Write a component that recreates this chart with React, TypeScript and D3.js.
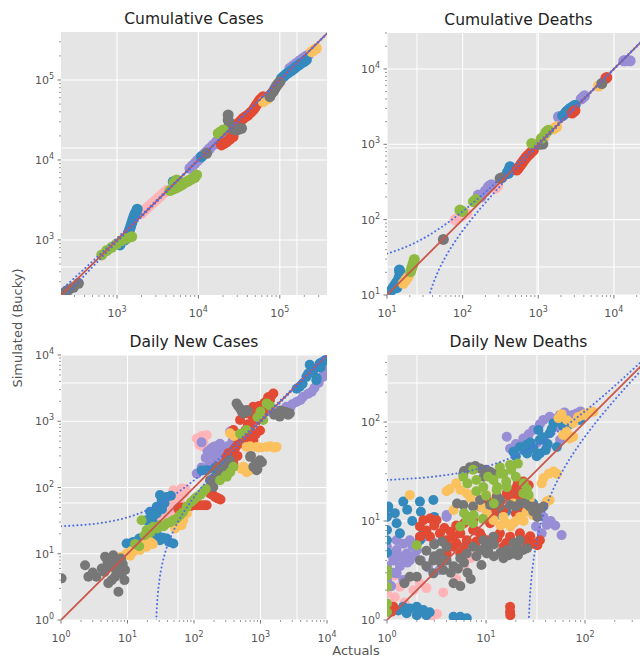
import * as d3 from 'd3';
import React, { useRef, useEffect } from 'react';

type Series = 'red' | 'blue' | 'purple' | 'grey' | 'yellow' | 'green' | 'pink';
type Pt = [number, number, Series];

const seriesColor: Record<Series, string> = {
  red: '#E24A33', blue: '#348ABD', purple: '#988ED5', grey: '#777777',
  yellow: '#FBC15E', green: '#8EBA42', pink: '#FFB5B8',
};
// draw order (last on top)
const seriesOrder: Series[] = ['pink', 'purple', 'blue', 'red', 'yellow', 'grey', 'green'];

// [actual, simulated, series]
const cumCases: Pt[] = [
  [220, 215, 'grey'], [236, 226, 'grey'], [253, 237, 'grey'], [291, 256, 'grey'], [336, 287, 'grey'],
  [23200, 36500, 'grey'], [23200, 31600, 'grey'], [24000, 28000, 'grey'], [26500, 24300, 'grey'], [29400, 23700, 'grey'], [31600, 24300, 'grey'], [33900, 24900, 'grey'],
  [75400, 61900, 'grey'], [78000, 66500, 'grey'], [82800, 71400, 'grey'], [87000, 77700, 'grey'], [91000, 84100, 'grey'], [95500, 89700, 'grey'], [100000, 95300, 'grey'], [12600, 12100, 'grey'],
  [241, 226, 'pink'], [2010, 2150, 'pink'], [2160, 2320, 'pink'], [2310, 2490, 'pink'], [2480, 2650, 'pink'], [2660, 2820, 'pink'], [2860, 3020, 'pink'],
  [3070, 3220, 'pink'], [3300, 3430, 'pink'], [3530, 3650, 'pink'], [3800, 3900, 'pink'], [4070, 4140, 'pink'],
  [649, 650, 'green'], [747, 736, 'green'], [861, 809, 'green'], [991, 891, 'green'], [1140, 981, 'green'], [1315, 1050, 'green'], [1515, 1100, 'green'],
  [4470, 4140, 'green'], [4800, 4280, 'green'], [5150, 4430, 'green'], [5540, 4580, 'green'], [5930, 4730, 'green'], [6370, 4970, 'green'], [6830, 5210, 'green'],
  [7340, 5420, 'green'], [7870, 5620, 'green'], [8440, 5840, 'green'], [9060, 6070, 'green'], [9500, 6490, 'green'],
  [5000, 5200, 'green'], [5400, 5620, 'green'], [17500, 21500, 'green'], [18800, 22600, 'green'], [20200, 23700, 'green'],
  [1088, 866, 'blue'], [1250, 1000, 'blue'], [1375, 1210, 'blue'], [1420, 1330, 'blue'], [1470, 1470, 'blue'], [1515, 1620, 'blue'], [1560, 1780, 'blue'],
  [1610, 1950, 'blue'], [1660, 2110, 'blue'], [1720, 2260, 'blue'], [1770, 2420, 'blue'],
  [4910, 5360, 'blue'], [10900, 11000, 'blue'], [105000, 105000, 'blue'], [113000, 112000, 'blue'], [121000, 119000, 'blue'], [130000, 125000, 'blue'],
  [139000, 131000, 'blue'], [149500, 139000, 'blue'], [160000, 147000, 'blue'], [172000, 154500, 'blue'], [184000, 162000, 'blue'], [198000, 170000, 'blue'], [212000, 178000, 'blue'],
  [7870, 7870, 'purple'], [8450, 8480, 'purple'], [9060, 9080, 'purple'], [9700, 9780, 'purple'], [10400, 10500, 'purple'], [11200, 11300, 'purple'],
  [12000, 12100, 'purple'], [12900, 13000, 'purple'], [13800, 14000, 'purple'], [15200, 15400, 'purple'], [16700, 16900, 'purple'], [17900, 18200, 'purple'],
  [19200, 19600, 'purple'], [20700, 21100, 'purple'], [22200, 22600, 'purple'], [23800, 24300, 'purple'], [25500, 26100, 'purple'], [27000, 27500, 'purple'],
  [133000, 140000, 'purple'], [146000, 151000, 'purple'], [160000, 162000, 'purple'], [176000, 174500, 'purple'], [193000, 187000, 'purple'], [208000, 196000, 'purple'], [223000, 205000, 'purple'],
  [19200, 15400, 'red'], [20700, 16100, 'red'], [22200, 16900, 'red'], [24400, 18200, 'red'], [26700, 19600, 'red'], [25000, 22000, 'red'], [26700, 24900, 'red'],
  [28700, 26700, 'red'], [30800, 28700, 'red'], [33100, 30900, 'red'], [35500, 33200, 'red'], [38000, 34800, 'red'], [40700, 36500, 'red'], [43900, 39300, 'red'],
  [47100, 42200, 'red'], [49400, 45400, 'red'], [51700, 48700, 'red'], [54300, 52300, 'red'], [56900, 56200, 'red'], [59700, 59000, 'red'], [62500, 61900, 'red'],
  [62500, 53600, 'yellow'], [67000, 56300, 'yellow'], [71900, 59000, 'yellow'], [245000, 226000, 'yellow'], [264000, 237000, 'yellow'], [282000, 249000, 'yellow'],
];

const cumDeaths: Pt[] = [
  [11.5, 11.6, 'blue'], [12.1, 12.6, 'blue'], [12.8, 13.6, 'blue'], [13.4, 14.7, 'blue'], [14.1, 15.8, 'blue'], [14.5, 17.1, 'blue'], [14.9, 18.4, 'blue'],
  [14.8, 20, 'blue'], [14.6, 21.5, 'blue'], [13.5, 12.5, 'blue'],
  [390, 420, 'blue'], [403, 411, 'blue'], [410, 460, 'blue'], [415, 440, 'blue'], [424, 504, 'blue'],
  [2100, 2400, 'blue'], [2260, 2560, 'blue'], [2350, 2700, 'blue'], [2450, 2800, 'blue'], [2630, 2990, 'blue'], [2850, 3150, 'blue'], [3070, 3310, 'blue'],
  [16.4, 14.3, 'yellow'], [17.8, 15.8, 'yellow'], [17.8, 16, 'yellow'], [19.1, 17.5, 'yellow'], [1057, 1081, 'yellow'], [1200, 1250, 'yellow'],
  [1600, 1600, 'yellow'], [1680, 1660, 'yellow'], [1750, 1710, 'yellow'], [6240, 5920, 'yellow'], [6500, 6100, 'yellow'],
  [20.5, 20.4, 'green'], [21.2, 22.7, 'green'], [21.9, 25, 'green'], [22.5, 27.3, 'green'], [23, 29.7, 'green'],
  [92, 134, 'green'], [96, 131, 'green'], [100, 128, 'green'], [139, 173, 'green'], [145, 179, 'green'], [150, 185, 'green'],
  [820, 1026, 'green'], [1100, 1200, 'green'], [1250, 1420, 'green'], [1300, 1480, 'green'], [1360, 1540, 'green'],
  [55.6, 54.7, 'grey'], [313, 352, 'grey'], [330, 360, 'grey'], [1050, 1000, 'grey'], [1150, 1007, 'grey'], [6920, 6410, 'grey'],
  [79, 99, 'pink'], [85, 104, 'pink'], [92, 109, 'pink'], [102, 115, 'pink'], [113, 121, 'pink'], [269, 260, 'pink'], [280, 270, 'pink'], [290, 280, 'pink'],
  [161, 212, 'purple'], [168, 206, 'purple'], [175, 200, 'purple'], [200, 240, 'purple'], [219, 273, 'purple'], [230, 282, 'purple'], [240, 290, 'purple'],
  [1850, 2320, 'purple'], [1900, 2250, 'purple'], [3700, 4000, 'purple'], [3800, 4100, 'purple'], [3960, 4270, 'purple'], [4100, 4400, 'purple'],
  [13500, 12800, 'purple'], [14100, 12800, 'purple'], [15000, 12900, 'purple'], [16400, 12800, 'purple'],
  [519, 455, 'red'], [540, 478, 'red'], [560, 500, 'red'], [582, 528, 'red'], [604, 557, 'red'], [627, 588, 'red'], [650, 620, 'red'], [676, 652, 'red'],
  [703, 684, 'red'], [740, 720, 'red'], [780, 760, 'red'], [820, 800, 'red'], [863, 838, 'red'],
  [2800, 2600, 'red'], [2920, 2700, 'red'], [3050, 2800, 'red'], [7800, 7500, 'red'], [8050, 7710, 'red'],
];

const dailyCases: Pt[] = [
  [1.02, 4.25, 'grey'], [2.3, 6.7, 'grey'], [2.58, 4.5, 'grey'], [3.4, 4.5, 'grey'], [4.1, 6.0, 'grey'], [5.15, 3.6, 'grey'], [4.6, 9.0, 'grey'],
  [6.1, 9.5, 'grey'], [6.5, 4.5, 'grey'], [7.3, 6.0, 'grey'], [7.3, 2.67, 'grey'], [8.2, 5.1, 'grey'], [9.2, 5.7, 'grey'], [9.0, 4.0, 'grey'],
  [5.5, 6.4, 'grey'], [6.9, 7.6, 'grey'], [5.8, 4.0, 'grey'], [8.5, 7.0, 'grey'], [3, 5.2, 'grey'], [4.5, 5.3, 'grey'], [6.8, 5.5, 'grey'],
  [8, 8.5, 'grey'], [5, 7.5, 'grey'],
  [174, 129, 'grey'], [195, 102, 'grey'], [246, 162, 'grey'], [219, 205, 'grey'], [348, 258, 'grey'], [780, 205, 'grey'], [877, 182, 'grey'],
  [983, 258, 'grey'], [697, 290, 'grey'], [437, 1860, 'grey'], [493, 1560, 'grey'], [553, 1315, 'grey'], [617, 1480, 'grey'],
  [1740, 1315, 'grey'], [2190, 1400, 'grey'], [2760, 1315, 'grey'], [1950, 1175, 'grey'],
  [180, 110, 'grey'], [200, 140, 'grey'], [230, 180, 'grey'], [260, 150, 'grey'], [280, 200, 'grey'], [300, 230, 'grey'], [460, 1700, 'grey'],
  [520, 1400, 'grey'], [580, 1380, 'grey'], [650, 1400, 'grey'], [1600, 1250, 'grey'], [2000, 1450, 'grey'], [2400, 1380, 'grey'], [2600, 1250, 'grey'],
  [850, 230, 'grey'], [720, 300, 'grey'], [900, 190, 'grey'], [1050, 240, 'grey'],
  [9.7, 10.1, 'yellow'], [12.2, 10.7, 'yellow'], [15.4, 11.4, 'yellow'], [19.4, 12.8, 'yellow'], [21.8, 15.1, 'yellow'], [78, 40.5, 'yellow'],
  [69, 32, 'yellow'], [65, 27, 'yellow'], [52, 24, 'yellow'], [617, 410, 'yellow'], [877, 410, 'yellow'], [1240, 410, 'yellow'], [1740, 410, 'yellow'],
  [553, 205, 'yellow'], [697, 182, 'yellow'], [348, 660, 'yellow'], [8, 9, 'yellow'], [11, 9.3, 'yellow'], [11.5, 11, 'yellow'], [14, 12, 'yellow'],
  [17, 12.5, 'yellow'], [24, 14, 'yellow'], [10, 9.5, 'yellow'], [18, 14, 'yellow'], [700, 420, 'yellow'], [1000, 400, 'yellow'], [1400, 420, 'yellow'],
  [1600, 400, 'yellow'], [520, 190, 'yellow'], [620, 170, 'yellow'], [760, 200, 'yellow'], [400, 600, 'yellow'],
  [9.7, 14.3, 'blue'], [12.2, 15.1, 'blue'], [19.4, 18, 'blue'], [27.5, 20.2, 'blue'], [30.8, 16, 'blue'], [38.8, 17, 'blue'], [48.9, 14.3, 'blue'],
  [19.4, 32, 'blue'], [21.8, 43, 'blue'], [27.5, 40.5, 'blue'], [32.7, 65, 'blue'], [30.8, 77, 'blue'], [38.8, 72, 'blue'], [27.5, 51, 'blue'],
  [15, 17, 'blue'], [23, 17.5, 'blue'], [34, 17.5, 'blue'], [42, 15, 'blue'], [24, 36, 'blue'], [33, 47, 'blue'], [36, 58, 'blue'], [25, 28, 'blue'], [45, 75, 'blue'],
  [4900, 4680, 'blue'], [6170, 5890, 'blue'], [7760, 7410, 'blue'], [9330, 8320, 'blue'], [6920, 4170, 'blue'], [3890, 3310, 'blue'], [5500, 7100, 'blue'],
  [5200, 5200, 'blue'], [6500, 6200, 'blue'], [8500, 7800, 'blue'], [8000, 6500, 'blue'], [7000, 4500, 'blue'], [4300, 3700, 'blue'], [3500, 3100, 'blue'],
  [246, 205, 'blue'], [155, 182, 'blue'], [300, 230, 'blue'], [280, 215, 'blue'], [200, 190, 'blue'], [130, 180, 'blue'],
  [16.3, 32, 'green'], [19.4, 22.8, 'green'], [24.4, 25.5, 'green'], [30.8, 27, 'green'], [38.8, 28.7, 'green'], [48.9, 32, 'green'], [61.6, 38.3, 'green'],
  [78, 51, 'green'], [110, 72, 'green'], [138, 86, 'green'], [493, 646, 'green'], [617, 740, 'green'], [1240, 1860, 'green'], [1100, 1045, 'green'],
  [246, 129, 'green'], [311, 145, 'green'], [391, 205, 'green'], [13, 14, 'green'], [15, 13, 'green'], [18, 19, 'green'], [22, 21, 'green'],
  [28, 24, 'green'], [35, 26, 'green'], [44, 30, 'green'], [55, 34, 'green'], [68, 42, 'green'], [90, 60, 'green'], [100, 66, 'green'], [125, 78, 'green'],
  [150, 95, 'green'], [300, 150, 'green'], [350, 170, 'green'], [1000, 1400, 'green'], [1400, 1700, 'green'], [900, 1150, 'green'],
  [41, 36, 'pink'], [46, 43, 'pink'], [52, 51, 'pink'], [61.6, 61, 'pink'], [43.5, 72, 'pink'], [48.9, 91, 'pink'], [65, 97, 'pink'], [38.8, 57.5, 'pink'],
  [27.5, 32, 'pink'], [123, 518, 'pink'], [155, 617, 'pink'], [138, 411, 'pink'], [174, 326, 'pink'], [35, 48, 'pink'], [70, 80, 'pink'],
  [42, 62, 'pink'], [56, 70, 'pink'], [60, 85, 'pink'], [75, 95, 'pink'], [32, 38, 'pink'], [110, 550, 'pink'], [140, 470, 'pink'], [160, 380, 'pink'],
  [120, 440, 'pink'], [130, 600, 'pink'],
  [58, 48, 'red'], [78, 51, 'red'], [98, 54, 'red'], [123, 54, 'red'], [155, 54, 'red'], [174, 81, 'red'], [208, 72, 'red'], [233, 68, 'red'],
  [311, 290, 'red'], [391, 365, 'red'], [493, 460, 'red'], [553, 652, 'red'], [697, 822, 'red'], [877, 1045, 'red'], [983, 726, 'red'],
  [1100, 1315, 'red'], [1240, 1660, 'red'], [1390, 2090, 'red'], [1560, 2630, 'red'], [780, 518, 'red'], [391, 230, 'red'], [493, 1045, 'red'],
  [617, 1315, 'red'], [780, 1660, 'red'], [391, 740, 'red'], [65, 50, 'red'], [88, 52, 'red'], [110, 54, 'red'], [140, 54, 'red'], [190, 78, 'red'],
  [220, 70, 'red'], [250, 66, 'red'], [330, 330, 'red'], [420, 400, 'red'], [460, 520, 'red'], [520, 600, 'red'], [600, 740, 'red'], [650, 900, 'red'],
  [750, 1200, 'red'], [850, 1400, 'red'], [950, 1700, 'red'], [1050, 1550, 'red'], [1150, 1900, 'red'], [1300, 2300, 'red'], [1450, 2400, 'red'],
  [700, 560, 'red'], [850, 640, 'red'], [550, 500, 'red'], [450, 300, 'red'], [350, 260, 'red'],
  [195, 408, 'purple'], [246, 457, 'purple'], [275, 324, 'purple'], [348, 408, 'purple'], [219, 258, 'purple'], [110, 162, 'purple'], [138, 182, 'purple'],
  [130, 480, 'purple'], [160, 350, 'purple'], [200, 300, 'purple'], [250, 250, 'purple'], [350, 700, 'purple'], [180, 380, 'purple'], [210, 420, 'purple'],
  [230, 330, 'purple'], [290, 380, 'purple'], [320, 420, 'purple'], [380, 500, 'purple'], [420, 560, 'purple'], [150, 280, 'purple'], [170, 220, 'purple'],
  [130, 200, 'purple'], [250, 220, 'purple'],
  [3470, 1950, 'purple'], [4370, 2340, 'purple'], [5890, 2800, 'purple'], [2450, 1660, 'purple'], [8710, 4680, 'purple'], [9800, 5890, 'purple'],
  [3000, 1800, 'purple'], [4000, 2100, 'purple'], [5200, 2600, 'purple'], [6500, 3200, 'purple'], [7500, 3800, 'purple'], [9000, 5200, 'purple'], [2800, 1600, 'purple'],
];

const dailyDeaths: Pt[] = [
  [16.2, 71, 'purple'], [17.5, 54, 'purple'], [23.8, 68, 'purple'], [30, 83, 'purple'], [38, 105, 'purple'], [44, 113, 'purple'], [56, 118, 'purple'],
  [68, 113, 'purple'], [82, 122, 'purple'], [52, 90, 'purple'], [32.5, 61, 'purple'], [41, 56, 'purple'], [56, 66, 'purple'], [58, 7.2, 'purple'],
  [32, 8.8, 'purple'], [41, 9.1, 'purple'], [36.5, 7.5, 'purple'], [20, 60, 'purple'], [27, 75, 'purple'], [35, 95, 'purple'], [47, 108, 'purple'],
  [62, 125, 'purple'], [75, 118, 'purple'], [90, 128, 'purple'], [45, 10, 'purple'], [50, 9, 'purple'], [38, 11, 'purple'],
  [1, 3.5, 'purple'], [1.25, 6.4, 'purple'], [1.46, 5.9, 'purple'], [1.7, 6.4, 'purple'], [1.25, 5.1, 'purple'], [1.58, 4.7, 'purple'], [1.16, 4.0, 'purple'],
  [1.35, 3.5, 'purple'], [1.7, 4.0, 'purple'], [1.25, 2.96, 'purple'], [1.46, 2.54, 'purple'], [2.0, 5.1, 'purple'], [1, 2.54, 'purple'], [4.0, 11, 'purple'],
  [1.1, 4.6, 'purple'], [1.4, 4.3, 'purple'], [1.9, 4.5, 'purple'], [2.3, 6.8, 'purple'], [2.6, 3.4, 'purple'], [3.4, 3.2, 'purple'], [4.0, 11.5, 'purple'],
  [1, 5.5, 'purple'], [1.15, 3, 'purple'], [1.3, 4.5, 'purple'], [1.6, 3.8, 'purple'], [1.8, 5.6, 'purple'], [2.2, 4, 'purple'], [1.1, 2.2, 'purple'], [3, 6, 'purple'],
  [18.9, 50, 'blue'], [22, 56, 'blue'], [25.8, 59, 'blue'], [30, 54, 'blue'], [35, 48, 'blue'], [33.8, 83, 'blue'], [44, 77, 'blue'], [48, 97, 'blue'],
  [60, 90, 'blue'], [35, 66, 'blue'], [52, 56, 'blue'], [65, 105, 'blue'], [89, 105, 'blue'], [32.5, 45, 'blue'], [20, 45, 'blue'], [24, 52, 'blue'],
  [28, 62, 'blue'], [38, 70, 'blue'], [42, 60, 'blue'], [46, 85, 'blue'], [55, 100, 'blue'], [70, 95, 'blue'], [40, 52, 'blue'], [26, 48, 'blue'],
  [1.03, 14, 'blue'], [1, 8.1, 'blue'], [1, 6.4, 'blue'], [1.46, 15.7, 'blue'], [2.15, 15.7, 'blue'], [2.94, 16.3, 'blue'], [1.25, 9.5, 'blue'],
  [1.35, 7.5, 'blue'], [2.33, 7.5, 'blue'], [2.15, 6.4, 'blue'], [1, 11, 'blue'], [1.2, 12, 'blue'], [1.6, 13, 'blue'], [1.8, 10, 'blue'], [1, 4.8, 'blue'],
  [1.46, 1.36, 'blue'], [1.7, 1.31, 'blue'], [2.0, 1.36, 'blue'], [2.33, 1.26, 'blue'], [2.5, 1.12, 'blue'], [1.58, 1.17, 'blue'], [2.0, 1.12, 'blue'],
  [4.7, 1.08, 'blue'], [5.5, 1.08, 'blue'], [6.4, 1.04, 'blue'], [1.3, 1.25, 'blue'], [2.7, 1.2, 'blue'], [5, 1.05, 'blue'],
  [10.2, 12.4, 'blue'], [12.8, 12.4, 'blue'], [2.2, 12.4, 'blue'], [3.0, 11, 'blue'], [1, 13.5, 'blue'], [14, 11.5, 'blue'], [16, 12.5, 'blue'],
  [24, 13, 'blue'], [26, 17, 'blue'], [30, 15, 'blue'],
  [54, 109, 'yellow'], [76, 97, 'yellow'], [96, 118, 'yellow'], [121, 127, 'yellow'], [65, 80, 'yellow'], [76, 71, 'yellow'], [38, 27, 'yellow'],
  [43, 30, 'yellow'], [48, 31.6, 'yellow'], [52, 30, 'yellow'], [36.5, 24, 'yellow'], [44, 16.3, 'yellow'], [41, 15.7, 'yellow'], [58, 120, 'yellow'],
  [66, 104, 'yellow'], [85, 112, 'yellow'], [110, 125, 'yellow'], [60, 74, 'yellow'], [70, 68, 'yellow'], [100, 120, 'yellow'],
  [4.3, 21, 'yellow'], [5.5, 20.6, 'yellow'], [6.4, 19, 'yellow'], [4.7, 12.9, 'yellow'], [10.2, 12, 'yellow'], [11.9, 10.2, 'yellow'], [15, 11, 'yellow'],
  [18.9, 9.5, 'yellow'], [22, 11, 'yellow'], [25.7, 12.4, 'yellow'], [18.9, 15, 'yellow'], [27.6, 16.3, 'yellow'], [1.7, 18.3, 'yellow'],
  [8.9, 14, 'yellow'], [17.7, 8.8, 'yellow'], [14, 9, 'yellow'], [7, 17, 'yellow'], [8, 20, 'yellow'], [10, 18.5, 'yellow'], [24, 10, 'yellow'],
  [30, 11.5, 'yellow'], [33, 13, 'yellow'], [20, 10, 'yellow'], [16, 9.5, 'yellow'], [26, 14.5, 'yellow'], [5, 24, 'yellow'], [4, 20, 'yellow'],
  [5.9, 28, 'green'], [7.4, 33, 'green'], [13.8, 35, 'green'], [17.5, 37, 'green'], [21, 38, 'green'], [11.9, 26, 'green'], [9.4, 22, 'green'],
  [23.8, 19, 'green'], [27, 18.3, 'green'], [6.4, 10.2, 'green'], [6.9, 11, 'green'], [7.4, 9.5, 'green'], [5.5, 8.8, 'green'], [12.8, 20.6, 'green'],
  [16.2, 22, 'green'], [1, 2.17, 'green'], [1, 1.47, 'green'], [6, 12, 'green'], [7.5, 11.5, 'green'], [9.3, 10.5, 'green'], [15, 30, 'green'],
  [12, 15, 'green'], [2, 5.7, 'green'], [6.5, 24, 'green'], [8, 26, 'green'], [10.5, 28, 'green'], [14, 30, 'green'], [18, 33, 'green'], [20, 28, 'green'],
  [24, 24, 'green'], [26, 21, 'green'], [8, 20, 'green'], [10, 18, 'green'], [13, 22, 'green'], [16, 25, 'green'], [1, 2.8, 'green'], [1, 3.2, 'green'], [1, 1.2, 'green'],
  [6.9, 35, 'grey'], [8.7, 34, 'grey'], [11, 31.5, 'grey'], [5.9, 30, 'grey'], [5.1, 15, 'grey'], [5.9, 14.5, 'grey'], [7.4, 14, 'grey'],
  [8.7, 16.3, 'grey'], [11, 14.5, 'grey'], [13.8, 14, 'grey'], [17.5, 14.5, 'grey'], [22, 15, 'grey'], [27.6, 14, 'grey'], [35, 13.4, 'grey'],
  [6, 32, 'grey'], [7.8, 36, 'grey'], [10, 33, 'grey'], [12, 30, 'grey'], [9.5, 28, 'grey'], [14, 16, 'grey'], [20, 14, 'grey'], [25, 15, 'grey'],
  [31, 14, 'grey'], [38, 14, 'grey'], [30, 12.5, 'grey'], [33, 11, 'grey'],
  [2.15, 4.0, 'grey'], [2.0, 2.74, 'grey'], [2.5, 3.5, 'grey'], [2.94, 4.0, 'grey'], [3.43, 4.7, 'grey'], [4.0, 5.5, 'grey'], [2.94, 2.96, 'grey'],
  [3.7, 3.2, 'grey'], [4.7, 2.35, 'grey'], [4.7, 3.5, 'grey'], [6.4, 4.7, 'grey'], [8.7, 5.1, 'grey'], [9.4, 6.4, 'grey'], [11.9, 6.95, 'grey'],
  [16.2, 5.1, 'grey'], [18.9, 4.7, 'grey'], [23.8, 5.1, 'grey'], [22, 6.4, 'grey'], [10.2, 4.7, 'grey'], [7.4, 5.5, 'grey'], [4.0, 4.0, 'grey'],
  [1.7, 2.74, 'grey'], [1.5, 2.35, 'grey'], [10.5, 5.0, 'grey'], [12, 4.4, 'grey'], [19, 6.0, 'grey'], [13, 17.5, 'grey'], [3, 4.4, 'grey'],
  [3.5, 3.8, 'grey'], [5.5, 4.2, 'grey'], [6, 3.8, 'grey'], [8, 4.4, 'grey'], [14, 4.8, 'grey'], [17, 4.5, 'grey'], [20, 5.5, 'grey'], [26, 5.3, 'grey'],
  [2.5, 5, 'grey'], [3, 5.8, 'grey'], [3.6, 6.2, 'grey'], [4.4, 3, 'grey'], [5.2, 3.3, 'grey'], [6.5, 3, 'grey'], [7, 2.6, 'grey'], [5.5, 2.2, 'grey'],
  [9, 3.6, 'grey'], [12, 5.8, 'grey'], [15, 4.2, 'grey'], [10, 6, 'grey'], [21, 4.5, 'grey'],
  [2.15, 8.8, 'red'], [2.33, 10.2, 'red'], [2.72, 10.6, 'red'], [3.16, 10.2, 'red'], [2.15, 6.95, 'red'], [2.72, 6.95, 'red'], [3.43, 7.5, 'red'],
  [4, 6.4, 'red'], [4.7, 6.95, 'red'], [5.5, 7.5, 'red'], [6.4, 6.4, 'red'], [4.7, 5.5, 'red'], [5.5, 4.7, 'red'], [4.0, 4.7, 'red'],
  [7.4, 8.1, 'red'], [8.7, 7.5, 'red'], [10.2, 6.4, 'red'], [11.9, 5.9, 'red'], [15, 5.5, 'red'], [20.4, 5.9, 'red'], [25.7, 5.5, 'red'],
  [30, 5.9, 'red'], [35, 6.4, 'red'], [17.5, 6.95, 'red'], [22, 7.5, 'red'], [13.8, 7.5, 'red'], [8.7, 14, 'red'], [10.2, 16.3, 'red'],
  [12.8, 17.6, 'red'], [16.2, 19, 'red'], [20.4, 22, 'red'], [23.8, 25, 'red'], [18.9, 16.3, 'red'], [15, 12.9, 'red'], [11.9, 12, 'red'],
  [7.4, 10.2, 'red'], [7.8, 8.0, 'red'], [9, 7, 'red'], [11, 9.5, 'red'], [21, 24, 'red'], [12, 14, 'red'], [14, 16, 'red'], [17, 18, 'red'],
  [19, 20, 'red'], [22, 18, 'red'], [25, 21, 'red'], [27, 23, 'red'], [23, 14, 'red'], [20, 12, 'red'], [5, 9, 'red'], [6, 9.5, 'red'],
  [3.8, 8.5, 'red'], [4.4, 7.8, 'red'], [2.5, 8, 'red'], [3, 9, 'red'], [5, 6, 'red'], [6, 5.5, 'red'], [8, 6.2, 'red'], [13, 6.7, 'red'],
  [16, 6, 'red'], [26, 6.5, 'red'], [33, 5.7, 'red'], [28, 7, 'red'],
  [1.16, 1.36, 'red'], [1.11, 1.21, 'red'], [17.5, 1.36, 'red'], [17.5, 1.21, 'red'], [17.6, 1.12, 'red'],
  [1, 1.86, 'pink'], [1.35, 2.17, 'pink'], [1.58, 2.54, 'pink'], [1.85, 2.0, 'pink'], [2.15, 2.35, 'pink'], [1.11, 1.47, 'pink'], [8.1, 4.7, 'pink'],
  [9.4, 5.1, 'pink'], [3.7, 1.9, 'pink'], [2.8, 1.08, 'pink'], [3.2, 1.15, 'pink'], [1, 3.0, 'pink'], [1, 2.4, 'pink'], [1.2, 1.7, 'pink'],
  [1.5, 1.5, 'pink'], [2.5, 2.1, 'pink'], [1.2, 2.8, 'pink'], [1.7, 1.3, 'pink'], [7, 4.2, 'pink'], [6, 3.5, 'pink'], [5, 2.6, 'pink'], [2.2, 1.2, 'pink'],
];

// half-width of the dotted confidence band: sqrt(bandFloor^2 + bandSlope * x)
const bandFloor = 25;
const bandSlope = 2;

const panels = [
  { title: 'Cumulative Cases', data: cumCases, xDom: [205, 3.8e5], yDom: [205, 3.98e5], box: [61, 32, 327, 295], r: 5.5, seamX: [297], seamY: [148, 267] },
  { title: 'Cumulative Deaths', data: cumDeaths, xDom: [10, 3e4], yDom: [10, 3e4], box: [387, 33, 650, 295], r: 5.5, seamX: [417, 537], seamY: [148, 267] },
  { title: 'Daily New Cases', data: dailyCases, xDom: [1, 1e4], yDom: [1, 1e4], box: [61, 355, 327, 620], r: 5, seamX: [178, 297], seamY: [383, 503] },
  { title: 'Daily New Deaths', data: dailyDeaths, xDom: [1, 475], yDom: [1, 475], box: [387, 355, 652, 620], r: 5, seamX: [417, 537], seamY: [383, 503] },
];

const FONT = 'DejaVu Sans, sans-serif';

function App() {
  const ref = useRef<SVGSVGElement>(null);

  useEffect(() => {
    const svg = d3.select(ref.current);
    svg.selectAll('*').remove();
    svg.append('rect').attr('width', 640).attr('height', 658).attr('fill', '#fff');

    panels.forEach((p, i) => {
      const [x0, y0, x1, y1] = p.box;
      const x = d3.scaleLog().domain(p.xDom).range([x0, x1]);
      const y = d3.scaleLog().domain(p.yDom).range([y1, y0]);
      const clipId = 'clip' + i;
      svg.append('clipPath').attr('id', clipId)
        .append('rect').attr('x', x0).attr('y', y0).attr('width', x1 - x0).attr('height', y1 - y0);

      svg.append('rect').attr('x', x0).attr('y', y0).attr('width', x1 - x0).attr('height', y1 - y0).attr('fill', '#E5E5E5');

      const decades = (dom: number[]) => d3.range(Math.ceil(Math.log10(dom[0]) - 1e-9), Math.floor(Math.log10(dom[1]) + 1e-9) + 1);
      const minors = (dom: number[]) => {
        const out: number[] = [];
        for (let e = Math.floor(Math.log10(dom[0])); e <= Math.ceil(Math.log10(dom[1])); e++)
          for (let m = 2; m <= 9; m++) { const v = m * Math.pow(10, e); if (v >= dom[0] && v <= dom[1]) out.push(v); }
        return out;
      };
      const xMaj = decades(p.xDom), yMaj = decades(p.yDom);

      const plot = svg.append('g').attr('clip-path', `url(#${clipId})`);
      const grid = plot.append('g').attr('stroke', '#fff').attr('stroke-width', 1.1);
      xMaj.forEach(e => grid.append('line').attr('x1', x(10 ** e)).attr('x2', x(10 ** e)).attr('y1', y0).attr('y2', y1));
      yMaj.forEach(e => grid.append('line').attr('y1', y(10 ** e)).attr('y2', y(10 ** e)).attr('x1', x0).attr('x2', x1));
      p.seamX.forEach(sx => grid.append('line').attr('x1', sx).attr('x2', sx).attr('y1', y0).attr('y2', y1).attr('stroke-width', 1));
      p.seamY.forEach(sy => grid.append('line').attr('y1', sy).attr('y2', sy).attr('x1', x0).attr('x2', x1).attr('stroke-width', 1));

      const bySeries = d3.group(p.data, d => d[2]);
      seriesOrder.forEach(s => {
        const pts = bySeries.get(s) || [];
        plot.append('g').selectAll('circle').data(pts).enter().append('circle')
          .attr('cx', d => x(d[0])).attr('cy', d => y(d[1])).attr('r', p.r)
          .attr('fill', seriesColor[s]);
      });

      const lo = Math.min(p.xDom[0], p.yDom[0]) * 0.5, hi = Math.max(p.xDom[1], p.yDom[1]) * 2;
      const line = d3.line<[number, number]>().x(d => x(d[0])).y(d => y(d[1]));
      plot.append('path').attr('d', line([[lo, lo], [hi, hi]]))
        .attr('stroke', '#C9574B').attr('stroke-width', 1.8).attr('fill', 'none');

      const xs = d3.range(0, 401).map(k => 10 ** (Math.log10(p.xDom[0]) + k * (Math.log10(p.xDom[1]) - Math.log10(p.xDom[0])) / 400));
      const band = (v: number) => Math.sqrt(bandFloor * bandFloor + bandSlope * v);
      const upper = xs.map(v => [v, v + band(v)] as [number, number]);
      const lower = xs.map(v => [v, v - band(v)] as [number, number]).filter(d => d[1] > p.yDom[0] * 0.05);
      [upper, lower].forEach(b => plot.append('path').attr('d', line(b))
        .attr('stroke', '#4F6FE3').attr('stroke-width', 2).attr('fill', 'none')
        .attr('stroke-dasharray', '0.1 4').attr('stroke-linecap', 'round'));

      // ticks
      const ax = svg.append('g').attr('stroke', '#555');
      xMaj.forEach(e => ax.append('line').attr('x1', x(10 ** e)).attr('x2', x(10 ** e)).attr('y1', y1).attr('y2', y1 + 3.5).attr('stroke-width', 0.8));
      yMaj.forEach(e => ax.append('line').attr('y1', y(10 ** e)).attr('y2', y(10 ** e)).attr('x1', x0).attr('x2', x0 - 3.5).attr('stroke-width', 0.8));
      minors(p.xDom).forEach(v => ax.append('line').attr('x1', x(v)).attr('x2', x(v)).attr('y1', y1).attr('y2', y1 + 2).attr('stroke-width', 0.6));
      minors(p.yDom).forEach(v => ax.append('line').attr('y1', y(v)).attr('y2', y(v)).attr('x1', x0).attr('x2', x0 - 2).attr('stroke-width', 0.6));

      const lab = svg.append('g').attr('fill', '#555').attr('font-family', FONT);
      xMaj.forEach(e => {
        const t = lab.append('text').attr('x', x(10 ** e)).attr('y', y1 + 22).attr('text-anchor', 'middle').attr('font-size', 11);
        t.append('tspan').text('10');
        t.append('tspan').attr('dy', -5).attr('font-size', 8).text(String(e));
      });
      yMaj.forEach(e => {
        const t = lab.append('text').attr('x', x0 - 7).attr('y', y(10 ** e) + 4).attr('text-anchor', 'end').attr('font-size', 11);
        t.append('tspan').text('10');
        t.append('tspan').attr('dy', -5).attr('font-size', 8).text(String(e));
      });

      svg.append('text').attr('x', (x0 + Math.min(x1, 650)) / 2).attr('y', y0 - 8)
        .attr('text-anchor', 'middle').attr('font-family', FONT).attr('font-size', 15.5).attr('fill', '#222')
        .text(p.title);
    });

    svg.append('text').attr('transform', 'translate(22,328) rotate(-90)').attr('text-anchor', 'middle')
      .attr('font-family', FONT).attr('font-size', 13).attr('fill', '#555').text('Simulated (Bucky)');
    svg.append('text').attr('x', 356).attr('y', 655).attr('text-anchor', 'middle')
      .attr('font-family', FONT).attr('font-size', 13).attr('fill', '#555').text('Actuals');
  }, []);

  return (
    <div>
      <style>{'body{margin:0}'}</style>
      <svg ref={ref} width={640} height={658} style={{ display: 'block' }} />
    </div>
  );
}

export default App;
